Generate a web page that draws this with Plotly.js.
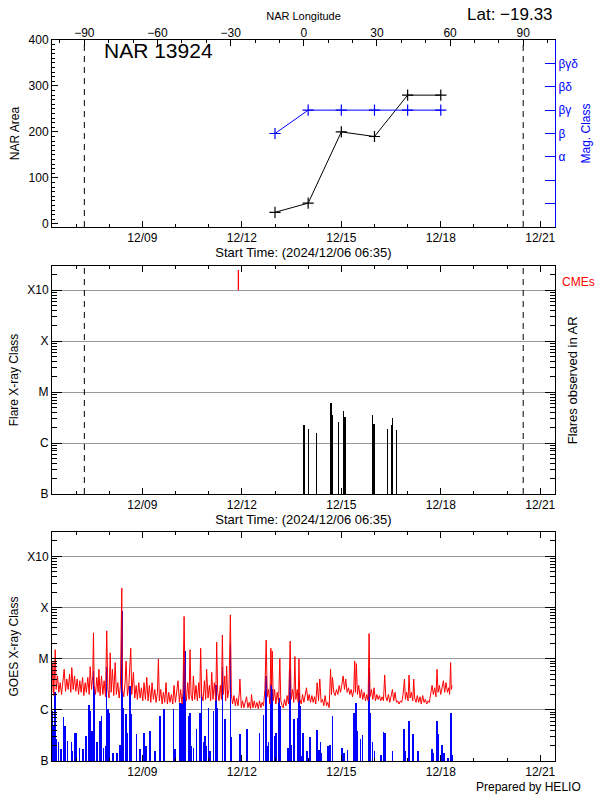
<!DOCTYPE html>
<html><head><meta charset="utf-8">
<script src="https://cdn.plot.ly/plotly-3.0.1.min.js"></script>
<style>html,body{margin:0;padding:0;background:#fff}</style>
</head><body><div id="chart" style="width:600px;height:800px"></div>
<script>
// ---------------- data ----------------
const regionLabel = 'NAR 13924';
const latitudeLabel = 'Lat: \u221219.33';
const startTime = '2024-12-06 06:35';
const endTime = '2024-12-21 10:40';
const startLabel = 'Start Time: (2024/12/06 06:35)';

// NAR longitude: -90 (east limb) crossing time and rotation rate (deg/day)
const eastLimbTime = '2024-12-07 06:00';
const rotationRate = 13.6;
const limbLongitudes = [-90, 90];

const narDates = ['2024-12-13', '2024-12-14', '2024-12-15', '2024-12-16', '2024-12-17', '2024-12-18'];
const narArea = [25, 45, 200, 190, 280, 280];
const magClassLabels = ['', '', '\u03b1', '\u03b2', '\u03b2\u03b3', '\u03b2\u03b4', '\u03b2\u03b3\u03b4'];
const narMagClass = ['\u03b2', '\u03b2\u03b3', '\u03b2\u03b3', '\u03b2\u03b3', '\u03b2\u03b3', '\u03b2\u03b3'];

// flares observed in the AR (peak flux, W/m^2)
const flareTimes = ['2024-12-13 21:03', '2024-12-14 00:09', '2024-12-14 05:56', '2024-12-14 16:33',
  '2024-12-14 17:17', '2024-12-14 22:08', '2024-12-15 00:00', '2024-12-15 01:26', '2024-12-15 02:40',
  '2024-12-15 22:25', '2024-12-15 23:38', '2024-12-16 09:15', '2024-12-16 12:08', '2024-12-16 12:52',
  '2024-12-16 15:46', '2024-12-17 00:00'];
const flarePeak = [2.3e-6, 1.9e-6, 1.6e-6, 6.1e-6, 3.5e-6, 2.6e-6, 1.3e-7, 4.3e-6, 3.3e-6,
  3.6e-6, 2.4e-6, 1.9e-6, 2.3e-6, 3.1e-6, 1.8e-6, 1.08e-7];
const cmeTimes = ['2024-12-11 21:30'];

const classTickVals = [1e-7, 1e-6, 1e-5, 1e-4, 1e-3];
const classTickText = ['B', 'C', 'M', 'X', 'X10'];

// GOES 1-8 A (long) : [hours since 2024-12-06 00:00, flux in 1e-6 W/m^2]
const goesLong = [
 [6.5,2.2],[7.2,8.4],[7.9,1.9],[8.9,15],[9.6,2.5],[10.6,4.6],[11.5,2.2],[12.5,3.4],[13.5,2.0],[14.4,4.0],
 [15.4,6.2],[16.4,2.3],[17.3,4.0],[18.3,2.5],[19.3,5.0],[20.2,2.2],[20.9,6.7],[21.9,2.5],[22.9,4.6],[23.8,2.3],
 [24.8,4.0],[25.8,2.0],[26.7,3.7],[27.7,2.2],[28.7,4.3],[29.6,1.9],[30.6,3.4],[31.5,2.2],[32.5,4.3],[33.5,2.0],
 [34.2,7.0],[35.2,2.5],[36.1,4.6],[36.6,32],[37.1,3.0],[38.1,2.0],[39.0,4.3],[40.0,2.2],[40.5,6.2],[41.4,1.9],
 [42.4,4.6],[43.4,2.0],[44.3,3.7],[45.3,1.8],[46.2,35],[47.0,2.5],[47.9,1.7],[48.7,13],[49.4,2.2],[50.3,6.2],
 [51.3,1.9],[52.3,8.4],[53.2,2.0],[54.2,3.4],[55.2,1.7],[56.1,3.0],[57.1,240],[57.6,2.5],[58.5,1.8],[59.5,3.4],
 [60.2,9.0],[61.2,1.9],[62.2,3.0],[63.6,16],[64.3,2.0],[65.5,5.4],[66.5,1.7],[67.5,3.0],[68.4,1.6],[69.4,3.4],
 [70.4,1.7],[71.3,2.7],[72.3,1.5],[73.2,3.4],[74.2,1.6],[75.2,4.3],[76.1,1.5],[77.1,3.0],[78.1,1.4],[79.0,3.4],
 [80.0,1.6],[81.0,2.5],[81.9,1.4],[82.9,2.2],[83.6,9.8],[84.3,1.5],[85.3,2.5],[86.3,1.3],[87.2,2.2],[88.2,1.4],
 [89.1,3.4],[90.1,1.3],[91.1,2.2],[92.0,1.4],[93.0,2.0],[94.0,1.3],[94.9,3.0],[95.9,1.4],[96.9,2.2],[97.8,3.7],
 [98.8,1.4],[99.7,2.5],[100.7,1.3],[101.4,2.2],[102.2,67],[102.9,2.5],[103.8,1.5],[104.8,3.4],[105.8,1.6],[106.5,15],
 [107.2,2.0],[108.2,1.5],[108.9,4.6],[109.9,1.6],[110.8,3.0],[111.8,1.5],[112.8,3.4],[113.5,1.7],[114.2,16],[114.9,2.0],
 [115.9,1.5],[116.9,3.7],[117.8,1.6],[118.5,6.2],[119.5,1.7],[120.5,3.0],[121.4,1.5],[122.2,5.4],[123.1,1.6],[124.1,3.4],
 [125.1,1.5],[125.8,21],[126.5,2.2],[127.5,1.5],[128.4,3.0],[129.2,1.6],[129.9,29],[130.6,2.0],[131.6,4.6],[132.3,1.5],
 [133.0,7.2],[133.7,1.7],[134.7,2.5],[135.7,72],[136.4,2.0],[137.3,1.3],[138.3,1.9],[139.3,1.2],[140.2,1.7],[141.2,1.2],
 [142.2,2.2],[142.6,4.0],[143.6,1.1],[144.5,1.5],[145.5,1.1],[146.5,1.4],[147.4,1.8],[148.4,1.1],[149.3,1.4],[150.3,1.05],
 [151.0,2.0],[152.0,1.1],[153.0,1.5],[153.9,1.1],[154.9,1.4],[155.9,1.05],[156.8,1.5],[157.8,1.1],[158.7,1.4],[159.7,1.2],
 [160.7,2.5],[161.6,23],[162.4,1.8],[163.3,2.5],[164.3,1.3],[165.0,16],[165.5,3.0],[166.0,14],[166.7,1.5],[167.7,2.5],
 [168.6,1.3],[169.6,2.2],[170.6,1.4],[171.5,10],[172.2,1.5],[173.2,1.2],[173.9,1.1],[174.9,1.6],[175.9,1.2],[176.8,1.9],
 [177.8,1.3],[179.0,22],[179.7,1.6],[180.7,2.5],[181.6,1.4],[182.4,11],[183.1,1.6],[184.1,2.5],[184.8,1.4],[185.3,10],
 [186.0,1.6],[187.0,1.3],[187.9,2.0],[188.9,1.4],[189.8,1.9],[190.8,2.7],[191.8,1.5],[192.7,2.0],[193.7,1.4],[194.7,1.9],
 [195.6,1.4],[196.6,1.8],[197.5,1.3],[198.5,3.4],[199.5,1.5],[200.4,4.0],[201.4,1.4],[202.4,1.6],[203.3,1.2],[204.3,1.9],
 [205.3,1.2],[206.2,1.4],[207.2,1.1],[208.2,6.2],[208.9,2.0],[209.6,4.3],[210.6,2.2],[211.5,1.9],[212.5,2.5],[213.5,2.0],
 [214.4,3.0],[215.4,2.2],[216.3,3.0],[217.3,4.6],[218.3,2.5],[219.2,4.0],[220.2,2.2],[221.2,2.7],[222.1,2.0],[223.1,2.5],
 [224.1,1.8],[225.0,2.5],[225.7,9.0],[226.2,2.2],[226.9,8.0],[227.7,2.0],[228.6,3.0],[229.6,1.7],[230.6,2.5],[231.5,1.6],
 [232.5,2.2],[233.5,1.5],[234.4,2.0],[235.4,1.5],[236.1,31],[236.8,1.8],[237.8,2.5],[238.8,1.6],[239.7,2.7],[240.7,1.5],
 [241.7,2.0],[242.6,1.6],[243.6,1.9],[244.5,1.5],[245.5,1.8],[246.5,1.5],[247.4,4.8],[248.2,1.8],[249.1,1.5],[250.1,2.0],
 [251.1,1.4],[252.0,1.8],[253.0,2.5],[253.9,1.5],[254.9,2.2],[255.9,1.4],[256.8,1.5],[257.8,1.3],[258.8,1.5],[259.7,1.4],
 [260.7,2.0],[261.7,4.0],[262.4,1.6],[263.3,2.2],[264.3,1.5],[265.0,4.8],[265.8,1.7],[266.7,2.2],[267.7,1.5],[268.4,4.0],
 [269.1,1.7],[270.1,1.4],[271.0,1.9],[272.0,1.4],[273.0,1.8],[273.9,1.3],[274.9,1.9],[275.9,1.4],[276.8,1.6],[277.8,1.3],
 [278.8,1.5],[279.7,1.4],[280.7,2.0],[281.7,3.0],[282.6,2.0],[283.6,2.7],[284.5,1.8],[285.3,6.2],[286.0,2.2],[287.0,3.0],
 [287.9,2.0],[288.9,3.0],[289.9,3.7],[290.8,2.2],[291.8,3.4],[292.8,2.2],[293.7,2.7],[294.4,2.0],[295.1,8.4],[295.6,2.5],
 [296.1,3.0]
];

// GOES 0.5-4 A (short) peaks : [hours since 2024-12-06 00:00, flux in 1e-6 W/m^2]
const goesShort = [
 [6.5,0.95],[7.7,0.48],[8.9,2.2],[9.6,0.27],[11.3,0.23],[13.0,0.17],[14.9,0.74],[16.1,0.48],[17.8,0.25],[20.7,0.23],
 [21.4,0.16],[22.9,0.35],[24.1,0.35],[26.5,0.18],[28.9,0.17],[31.3,0.31],[33.5,1.22],[34.2,0.95],[35.4,0.39],[36.6,5.8],
 [37.3,2.94],[39.0,0.23],[41.4,0.6],[42.4,0.76],[43.8,0.18],[45.3,0.2],[46.2,7.0],[47.0,1.03],[48.2,0.88],[50.6,0.146],
 [53.5,0.146],[55.9,0.21],[57.1,86],[57.8,1.11],[60.2,0.82],[61.2,0.36],[63.1,2.94],[63.8,0.82],[67.9,0.33],[70.3,0.17],
 [73.2,0.36],[74.7,0.2],[77.6,0.39],[81.2,0.16],[84.8,0.76],[87.7,1.03],[94.5,1.03],[95.7,0.17],[99.3,1.39],[100.5,1.39],
 [101.7,0.2],[102.2,14],[103.1,14],[105.3,0.76],[106.5,0.88],[107.7,0.2],[108.9,0.18],[111.3,0.42],[113.7,0.88],[114.9,2.73],
 [116.1,0.23],[117.3,0.31],[118.5,0.2],[119.8,1.11],[121.0,0.16],[123.4,0.95],[125.3,3.1],[126.5,1.11],[130.1,7.0],[131.8,0.65],
 [135.7,19],[136.6,0.29],[142.6,0.33],[147.9,0.42],[156.6,0.36],[159.5,0.79],[161.6,4.6],[162.4,0.2],[163.3,0.23],[165.0,3.2],
 [165.7,2.53],[167.7,0.31],[168.6,0.36],[171.0,1.68],[172.0,1.19],[177.5,0.18],[179.0,6.4],[180.0,0.21],[181.2,0.63],[181.9,0.65],
 [184.3,0.68],[185.3,2.1],[186.0,1.19],[187.7,0.125],[188.4,0.36],[191.3,0.16],[193.5,0.29],[198.5,0.4],[200.0,0.165],[200.9,0.235],
 [201.6,0.146],[206.5,0.2],[207.7,0.205],[209.6,0.76],[216.6,0.18],[218.0,0.146],[220.4,0.165],[225.3,0.88],[226.5,1.39],[227.4,0.39],
 [229.8,0.27],[231.5,0.32],[235.6,0.17],[236.1,6.7],[236.6,0.88],[238.5,0.235],[240.0,0.155],[244.8,0.13],[246.7,0.37],[247.7,0.36],
 [253.0,0.16],[261.2,0.42],[262.4,0.16],[265.0,0.6],[267.9,0.34],[271.5,0.16],[281.7,0.175],[282.4,0.146],[285.3,0.6],[286.2,0.33],
 [288.9,0.21],[290.3,0.146],[293.2,0.115],[295.4,0.86],[296.1,0.13]
];

// ---------------- helpers ----------------
const DAY = 86400000, HOUR = 3600000;
const FONT = 'Liberation Sans, Arial, sans-serif';
const toMs = s => new Date(s.replace(' ', 'T') + ':00Z').getTime();
const fmt = ms => new Date(ms).toISOString().slice(0, 19).replace('T', ' ');
const goesEpoch = Date.UTC(2024, 11, 6);
const hToDate = h => fmt(goesEpoch + h * HOUR);
const lonOf = s => -90 + (toMs(s) - toMs(eastLimbTime)) / DAY * rotationRate;
const lonRange = [lonOf(startTime), lonOf(endTime)];

const minorLog = [];
for (let d = -7; d <= -3; d++) for (let k = 2; k <= 9; k++) minorLog.push(k * Math.pow(10, d));

const dom = { top: [0.7406, 1], mid: [0.3703, 0.6865], bot: [0, 0.3176] };

const xBase = () => ({
  type: 'date', range: [startTime, endTime], tick0: '2024-12-09', dtick: 3 * DAY,
  tickformat: '%m/%d', ticks: 'inside', ticklen: 6, tickcolor: '#000', tickwidth: 1,
  showline: true, linecolor: '#000', linewidth: 1, showgrid: false, zeroline: false,
  minor: { dtick: DAY, ticks: 'inside', ticklen: 3, tickcolor: '#000', showgrid: false },
  tickfont: { family: FONT, size: 12, color: '#000' }, domain: [0, 1]
});
const yLog = (domain, title) => ({
  type: 'log', range: [-7, -2.524], domain: domain,
  tickmode: 'array', tickvals: classTickVals, ticktext: classTickText,
  ticks: 'inside', ticklen: 10, tickcolor: '#000', showline: true, linecolor: '#000', linewidth: 1,
  mirror: 'ticks', showgrid: true, gridcolor: '#999999', gridwidth: 1, zeroline: false,
  minor: { tickmode: 'array', tickvals: minorLog, ticks: 'inside', ticklen: 5, tickcolor: '#000', showgrid: false },
  tickfont: { family: FONT, size: 12, color: '#000' },
  title: { text: title, font: { family: FONT, size: 12, color: '#000' }, standoff: 6 }
});

// ---------------- traces ----------------
const traces = [];
// top panel
traces.push({
  x: narDates, y: narMagClass.map(c => magClassLabels.indexOf(c) + 1), xaxis: 'x', yaxis: 'y2',
  mode: 'lines+markers', line: { color: '#0000ff', width: 1 },
  marker: { symbol: 'cross-thin-open', size: 8, line: { color: '#0000ff', width: 1.2 } }, hoverinfo: 'skip'
});
traces.push({
  x: narDates, y: narArea, xaxis: 'x', yaxis: 'y',
  mode: 'lines+markers', line: { color: '#000', width: 1 },
  marker: { symbol: 'cross-thin-open', size: 8, line: { color: '#000', width: 1.2 } }, hoverinfo: 'skip'
});
traces.push({ x: limbLongitudes, y: [null, null], xaxis: 'x2', yaxis: 'y', mode: 'lines', hoverinfo: 'skip' });

// middle panel: flares
traces.push({
  type: 'bar', x: flareTimes, y: flarePeak, xaxis: 'x3', yaxis: 'y3', width: 0.036 * DAY,
  marker: { color: '#000', line: { width: 0 } }, hoverinfo: 'skip'
});
const cmeBase = 1e-3, cmeTop = 2.5e-3;
cmeTimes.forEach(t => traces.push({
  x: [t, t], y: [cmeBase, cmeTop], xaxis: 'x3', yaxis: 'y3', mode: 'lines',
  line: { color: '#ff0000', width: 1.3 }, hoverinfo: 'skip'
}));

// bottom panel: GOES
traces.push({
  x: goesLong.map(p => hToDate(p[0])), y: goesLong.map(p => p[1] * 1e-6), xaxis: 'x4', yaxis: 'y4',
  mode: 'lines', line: { color: '#ff0000', width: 1 }, hoverinfo: 'skip'
});
traces.push({
  type: 'bar', x: goesShort.map(p => hToDate(p[0])), y: goesShort.map(p => p[1] * 1e-6), xaxis: 'x4', yaxis: 'y4',
  width: 0.045 * DAY, marker: { color: '#0000ff', line: { width: 0 } }, hoverinfo: 'skip'
});

// ---------------- layout ----------------
const xTop = xBase(); xTop.anchor = 'y'; xTop.mirror = true;
xTop.title = { text: startLabel, font: { family: FONT, size: 13, color: '#000' }, standoff: 2 };
const xMid = xBase(); xMid.anchor = 'y3'; xMid.mirror = 'ticks';
xMid.title = { text: startLabel, font: { family: FONT, size: 13, color: '#000' }, standoff: 2 };
const xBot = xBase(); xBot.anchor = 'y4'; xBot.mirror = 'ticks';

const shapes = [];
limbLongitudes.forEach(l => {
  [dom.top, dom.mid].forEach(d => shapes.push({
    type: 'line', xref: 'x2', yref: 'paper', x0: l, x1: l, y0: d[0], y1: d[1],
    line: { color: '#000', width: 1, dash: '6px,5px' }
  }));
});

const layout = {
  width: 600, height: 800, showlegend: false, hovermode: false,
  paper_bgcolor: '#fff', plot_bgcolor: '#fff', bargap: 0,
  margin: { l: 52, r: 45, t: 40, b: 39 },
  font: { family: FONT, size: 12, color: '#000' },
  xaxis: xTop,
  xaxis2: {
    overlaying: 'x', side: 'top', anchor: 'y', range: lonRange, tick0: 0, dtick: 30,
    ticks: 'inside', ticklen: 6, tickcolor: '#000', showline: false, showgrid: false, zeroline: false,
    minor: { dtick: 10, ticks: 'inside', ticklen: 3, tickcolor: '#000', showgrid: false },
    tickfont: { family: FONT, size: 12, color: '#000' },
    title: { text: 'NAR Longitude', font: { family: FONT, size: 11, color: '#000' }, standoff: 2 }
  },
  yaxis: {
    domain: dom.top, anchor: 'x', range: [-7, 400], dtick: 100, tick0: 0,
    ticks: 'inside', ticklen: 6, tickcolor: '#000', showline: true, linecolor: '#000', linewidth: 1,
    showgrid: false, zeroline: false,
    minor: { dtick: 10, ticks: 'inside', ticklen: 3, tickcolor: '#000', showgrid: false },
    tickfont: { family: FONT, size: 12, color: '#000' },
    title: { text: 'NAR Area', font: { family: FONT, size: 12, color: '#000' }, standoff: 6 }
  },
  yaxis2: {
    overlaying: 'y', side: 'right', anchor: 'x', range: [0, 8],
    tickmode: 'array', tickvals: [1, 2, 3, 4, 5, 6, 7], ticktext: magClassLabels,
    ticks: 'inside', ticklen: 10, tickcolor: '#0000ff', showline: true, linecolor: '#0000ff', linewidth: 1,
    showgrid: false, zeroline: false,
    tickfont: { family: FONT, size: 12, color: '#0000ff' },
    title: { text: 'Mag. Class', font: { family: FONT, size: 12, color: '#0000ff' }, standoff: 4 }
  },
  xaxis3: xMid,
  yaxis3: Object.assign(yLog(dom.mid, 'Flare X-ray Class'), { anchor: 'x3' }),
  xaxis4: xBot,
  yaxis4: Object.assign(yLog(dom.bot, 'GOES X-ray Class'), { anchor: 'x4' }),
  shapes: shapes,
  annotations: [
    { text: regionLabel, xref: 'paper', yref: 'paper', x: 0.0988, y: 0.986, xanchor: 'left', yanchor: 'middle',
      showarrow: false, font: { family: FONT, size: 21, color: '#000' } },
    { text: latitudeLabel, xref: 'paper', yref: 'paper', x: 1.0, y: 1.0347, xanchor: 'right', yanchor: 'middle',
      showarrow: false, font: { family: FONT, size: 17, color: '#000' } },
    { text: 'CMEs', xref: 'paper', yref: 'paper', x: 1.01, y: 0.6644, xanchor: 'left', yanchor: 'middle',
      showarrow: false, font: { family: FONT, size: 12, color: '#ff0000' } },
    { text: 'Flares observed in AR', xref: 'paper', yref: 'paper', x: 1.0338, y: 0.528, xanchor: 'center', yanchor: 'middle',
      textangle: -90, showarrow: false, font: { family: FONT, size: 13, color: '#000' } },
    { text: 'Prepared by HELIO', xref: 'paper', yref: 'paper', x: 1.0557, y: -0.036, xanchor: 'right', yanchor: 'middle',
      showarrow: false, font: { family: FONT, size: 12, color: '#000' } }
  ]
};

Plotly.newPlot('chart', traces, layout, { staticPlot: true, displayModeBar: false });
</script>
</body></html>
